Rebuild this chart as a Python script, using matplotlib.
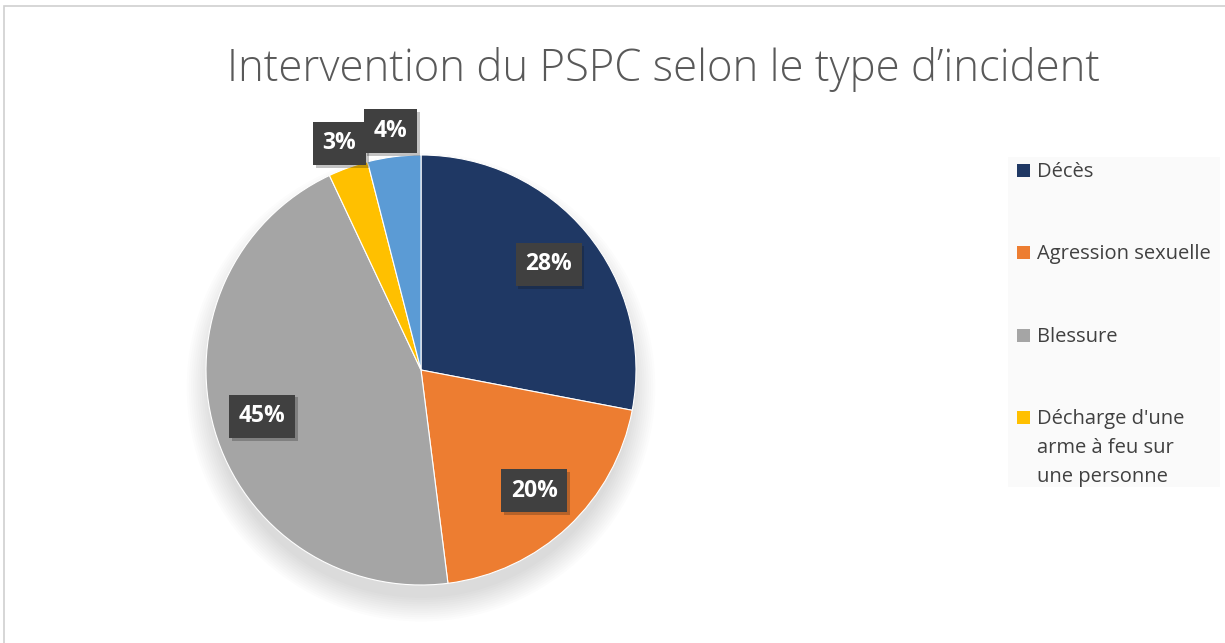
#!/usr/bin/env python3
# -*- coding: utf-8 -*-
"""Pie chart: PSPC interventions by incident type."""
import matplotlib
matplotlib.use("Agg")
import matplotlib.pyplot as plt
from matplotlib.patches import Rectangle, Circle
import matplotlib.patheffects as pe
import numpy as np

categories = ["Décès", "Agression sexuelle", "Blessure",
              "Décharge d'une\narme à feu sur\nune personne", "Autre"]
shares = [28, 20, 45, 3, 4]
colors = ["#1F3864", "#ED7D31", "#A5A5A5", "#FFC000", "#5B9BD5"]
title = "Intervention du PSPC selon le type d\u2019incident"
legend_count = 4  # the fifth entry is cut off in the original

plt.rcParams["font.family"] = ["Open Sans", "DejaVu Sans"]

W, H = 1225, 643
fig = plt.figure(figsize=(W / 100, H / 100), dpi=100)
fig.patch.set_facecolor("white")

# chart area border (only top and left visible)
fig.add_artist(Rectangle((3.5 / W, -0.1), 1.2, 1.1 - 6.5 / H,
                         transform=fig.transFigure, fill=False,
                         edgecolor="#D0D0D0", linewidth=1.2))

cx, cy, R = 421, 370, 215
span = 1.3
size = R * span * 2
axe = fig.add_axes([(cx - size / 2) / W, (H - cy - size / 2) / H,
                    size / W, size / H])

# soft shadow under the pie
for k in range(12):
    axe.add_patch(Circle((0, -0.08), 0.98 + 0.01 * k, color="black",
                         alpha=0.011, lw=0, zorder=0))

wedges, _ = axe.pie(shares, colors=colors, startangle=90, counterclock=False,
                    radius=1.0, wedgeprops=dict(linewidth=0.8,
                                                edgecolor="white"))
axe.set_xlim(-span, span)
axe.set_ylim(-span, span)
axe.set_aspect("equal")
axe.axis("off")
for w in wedges:
    w.set_zorder(2)

for w, val in zip(wedges, shares):
    ang = np.deg2rad((w.theta1 + w.theta2) / 2)
    dist = 1.12 if val < 5 else 0.77
    txt = axe.text(dist * np.cos(ang), dist * np.sin(ang), f"{val}%",
                   ha="center", va="center", color="white",
                   fontsize=16.5, fontweight="bold", zorder=5,
                   bbox=dict(boxstyle="square,pad=0.42", fc="#404040",
                             ec="none"))
    txt.get_bbox_patch().set_path_effects(
        [pe.SimplePatchShadow(offset=(2, -2), alpha=0.25), pe.Normal()])

fig.text(663 / W, 1 - 69 / H, title, ha="center", va="center",
         fontsize=31.5, color="#595959", fontweight="light")

# legend drawn by hand so the marker sits on the first text line
fig.add_artist(Rectangle((1008 / W, 1 - 487 / H), 212 / W, 330 / H,
                         transform=fig.transFigure, facecolor="#FAFAFA",
                         edgecolor="none"))
entry_y = [170, 252, 335, 417]
sq = 13
for lab, col, y in zip(categories[:legend_count], colors[:legend_count],
                       entry_y):
    fig.add_artist(Rectangle((1017 / W, 1 - (y + sq / 2) / H), sq / W, sq / H,
                             transform=fig.transFigure, facecolor=col,
                             edgecolor="none"))
    fig.text(1037 / W, 1 - (y - 8) / H, lab, ha="left", va="top",
             fontsize=14.5, color="#404040", linespacing=1.6)

fig.savefig("out.png", dpi=100)
